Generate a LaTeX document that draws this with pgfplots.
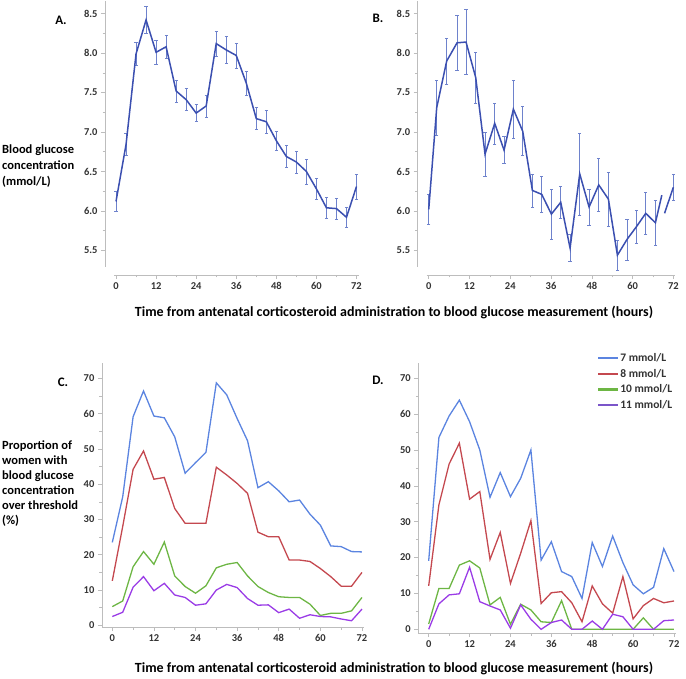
\documentclass[border=0pt]{standalone}
\usepackage{pgfplots}
\pgfplotsset{compat=1.18}
\usepackage{fontspec}
\setmainfont{Carlito}
\definecolor{axgray}{HTML}{BDBDBD}
\definecolor{tickgray}{HTML}{333333}
\definecolor{bblue}{HTML}{3B4FB0}
\definecolor{ebblue}{HTML}{6E82CC}
\definecolor{c7}{HTML}{5B84E0}
\definecolor{c8}{HTML}{C4484F}
\definecolor{c10}{HTML}{6DB644}
\definecolor{c11}{HTML}{9A3CE6}
\definecolor{c11leg}{HTML}{7B55C9}

\pgfplotsset{
  base/.style={
    scale only axis,
    anchor=south west,
    axis x line*=bottom, axis y line*=left,
    separate axis lines,
    axis line style={axgray, line width=0.8pt, -},
    tick align=outside,
    major tick length=4pt, minor tick length=2.5pt,
    every tick/.style={axgray, line width=0.6pt},
    tick label style={font=\fontsize{10.5}{10.5}\selectfont\bfseries, text=tickgray},
    /pgf/number format/assume math mode=true,
    xtick={0,12,24,36,48,60,72},
    minor x tick num=1,
    minor y tick num=1,
    clip=false,
  },
  offsetax/.style={
    every outer x axis line/.append style={yshift=-8pt},
    every outer y axis line/.append style={xshift=-9pt},
    xtick style={yshift=-8pt}, ytick style={xshift=-9pt},
    xticklabel style={yshift=-8pt}, yticklabel style={xshift=-9pt},
  },
  ebars/.style={draw=none, mark=none, forget plot,
    error bars/.cd, y dir=both, y explicit,
    error bar style={ebblue, line width=0.6pt},
    error mark options={ebblue, mark size=1.6pt, rotate=90, line width=0.6pt}},
}

\begin{document}
\begin{tikzpicture}
\useasboundingbox (0,0) rectangle (686pt,678pt);

% ---------- Panel A ----------
\begin{axis}[base, offsetax, at={(114pt,411pt)}, width=244.5pt, height=266pt,
  xmin=-0.6, xmax=72.6, ymin=5.29, ymax=8.66,
  ytick={5.5,6.0,6.5,7.0,7.5,8.0,8.5},
  yticklabel={\pgfmathprintnumber[fixed,fixed zerofill,precision=1]{\tick}},
]
\addplot[ebars] table[x=x,y=y,y error=e] {
x y e
0 6.12 0.13
3 6.84 0.14
6 7.99 0.15
9 8.42 0.17
12 8.01 0.15
15 8.08 0.15
18 7.52 0.14
21 7.41 0.14
24 7.24 0.11
27 7.33 0.14
30 8.12 0.16
33 8.04 0.17
36 7.97 0.16
39 7.62 0.15
42 7.17 0.14
45 7.13 0.14
48 6.89 0.12
51 6.69 0.14
54 6.62 0.14
57 6.50 0.16
60 6.28 0.13
63 6.04 0.13
66 6.03 0.13
69 5.92 0.13
72 6.31 0.16
};
\addplot[bblue, line width=1.5pt, mark=none] table[x=x,y=y] {
x y
0 6.12
3 6.84
6 7.99
9 8.42
12 8.01
15 8.08
18 7.52
21 7.41
24 7.24
27 7.33
30 8.12
33 8.04
36 7.97
39 7.62
42 7.17
45 7.13
48 6.89
51 6.69
54 6.62
57 6.50
60 6.28
63 6.04
66 6.03
69 5.92
72 6.31
};
\end{axis}

% ---------- Panel B ----------
\begin{axis}[base, offsetax, at={(426.7pt,411pt)}, width=248.7pt, height=266pt,
  xmin=-0.6, xmax=72.6, ymin=5.29, ymax=8.66,
  ytick={5.5,6.0,6.5,7.0,7.5,8.0,8.5},
  yticklabel={\pgfmathprintnumber[fixed,fixed zerofill,precision=1]{\tick}},
]
\addplot[ebars] table[x=x,y=y,y error=e] {
x y e
0 6.02 0.19
2.35 7.31 0.35
5.29 7.90 0.29
8.33 8.13 0.35
10.98 8.14 0.41
13.83 7.69 0.32
16.57 6.72 0.28
19.42 7.11 0.26
22.17 6.77 0.17
24.91 7.29 0.37
27.66 7.01 0.31
30.51 6.26 0.21
33.26 6.21 0.23
36.10 5.96 0.32
38.85 6.11 0.20
41.60 5.53 0.17
44.44 6.47 0.52
47.19 6.05 0.23
50.04 6.33 0.34
52.88 6.15 0.34
55.53 5.44 0.19
58.37 5.64 0.26
61.12 5.80 0.21
63.87 5.97 0.27
66.72 5.85 0.29
72 6.30 0.16
};
\addplot[bblue, line width=1.5pt, mark=none] table[x=x,y=y] {
x y
0 6.02
2.35 7.31
5.29 7.90
8.33 8.13
10.98 8.14
13.83 7.69
16.57 6.72
19.42 7.11
22.17 6.77
24.91 7.29
27.66 7.01
30.51 6.26
33.26 6.21
36.10 5.96
38.85 6.11
41.60 5.53
44.44 6.47
47.19 6.05
50.04 6.33
52.88 6.15
55.53 5.44
58.37 5.64
61.12 5.80
63.87 5.97
66.72 5.85
68.60 6.20
};
\addplot[bblue, line width=1.5pt, mark=none] table[x=x,y=y] {
x y
69.40 5.97
72 6.30
};
\end{axis}

% ---------- Panel C ----------
\begin{axis}[base, at={(101.9pt,50.9pt)}, width=261.8pt, height=264pt,
  xmin=-3, xmax=72.5, ymin=-0.5, ymax=74.3,
  ytick={0,10,20,30,40,50,60,70},
]
\addplot[c7, line width=1.3pt, mark=none] table[x=x,y=y] {
x y
0 23.5
3 36.4
6 59.1
9 66.4
12 59.3
15 58.8
18 53.4
21 43.1
24 46.1
27 49.0
30 68.7
33 65.3
36 58.6
39 52.3
42 39.0
45 40.7
48 38.1
51 35.0
54 35.5
57 31.5
60 28.4
63 22.5
66 22.3
69 20.9
72 20.8
};
\addplot[c8, line width=1.3pt, mark=none] table[x=x,y=y] {
x y
0 12.6
3 28.0
6 44.2
9 49.4
12 41.4
15 41.9
18 33.1
21 28.9
24 28.9
27 28.9
30 44.8
33 42.6
36 40.2
39 37.4
42 26.4
45 25.1
48 25.1
51 18.5
54 18.5
57 18.1
60 16.1
63 13.8
66 11.1
69 11.1
72 15.0
};
\addplot[c10, line width=1.3pt, mark=none] table[x=x,y=y] {
x y
0 5.3
3 6.9
6 16.6
9 20.9
12 17.3
15 23.6
18 14.0
21 11.0
24 9.1
27 11.2
30 16.3
33 17.3
36 17.8
39 14.0
42 11.0
45 9.3
48 8.1
51 7.9
54 7.9
57 6.0
60 2.8
63 3.4
66 3.4
69 4.1
72 7.9
};
\addplot[c11, line width=1.3pt, mark=none] table[x=x,y=y] {
x y
0 2.5
3 3.7
6 10.8
9 13.8
12 9.8
15 11.9
18 8.6
21 7.9
24 5.7
27 6.1
30 10.0
33 11.6
36 10.7
39 7.6
42 5.7
45 5.8
48 3.6
51 4.6
54 2.0
57 3.0
60 2.5
63 2.4
66 1.8
69 1.3
72 4.6
};
\end{axis}

% ---------- Panel D ----------
\begin{axis}[base, at={(418.3pt,45pt)}, width=257.4pt, height=269.8pt,
  xmin=-3.05, xmax=72.5, ymin=-1.03, ymax=74.2,
  ytick={0,10,20,30,40,50,60,70},
  legend style={at={(0.694,1.04)}, anchor=north west, draw=none, fill=none,
    font=\fontsize{11.5}{12}\selectfont\bfseries, text=tickgray,
    row sep=4pt, inner sep=0pt, nodes={inner sep=1pt}},
  legend cell align=left,
  legend image code/.code={\draw[#1, line width=2.2pt] (0pt,0pt) -- (20pt,0pt);},
]
\addlegendimage{c7}
\addlegendentry{7 mmol/L}
\addlegendimage{c8}
\addlegendentry{8 mmol/L}
\addlegendimage{c10}
\addlegendentry{10 mmol/L}
\addlegendimage{c11leg}
\addlegendentry{11 mmol/L}
\addplot[c7, line width=1.3pt, mark=none, forget plot] table[x=x,y=y] {
x y
0 19.1
3 53.5
6 59.5
9 63.9
12 57.9
15 50.0
18 36.8
21 43.7
24 37.0
27 42.1
30 50.0
33 19.3
36 24.4
39 16.1
42 14.7
45 8.6
48 24.2
51 17.5
54 26.0
57 18.6
60 12.4
63 9.9
66 11.7
69 22.5
72 16.1
};
\addplot[c8, line width=1.3pt, mark=none, forget plot] table[x=x,y=y] {
x y
0 12.1
3 34.7
6 46.1
9 51.9
12 36.3
15 38.4
18 19.5
21 27.0
24 12.8
27 21.2
30 30.3
33 7.2
36 10.2
39 10.5
42 7.4
45 2.1
48 12.1
51 7.1
54 4.5
57 14.7
60 2.9
63 6.6
66 8.6
69 7.4
72 7.9
};
\addplot[c10, line width=1.3pt, mark=none, forget plot] table[x=x,y=y] {
x y
0 1.5
3 11.4
6 11.4
9 17.9
12 19.1
15 17.1
18 6.8
21 8.9
24 1.4
27 7.0
30 5.4
33 2.1
36 1.9
39 8.0
42 0
45 0
48 0
51 0
54 0
57 0
60 0
63 3.2
66 0
69 0
72 0
};
\addplot[c11, line width=1.3pt, mark=none, forget plot] table[x=x,y=y] {
x y
0 0
3 7.1
6 9.6
9 9.9
12 17.3
15 7.7
18 6.5
21 5.4
24 0.3
27 6.8
30 2.8
33 0
36 1.9
39 2.6
42 0
45 0
48 2.3
51 0
54 4.2
57 3.5
60 0
63 0
66 0
69 2.4
72 2.6
};
\end{axis}

% ---------- Text ----------
\begin{scope}[every node/.style={font=\fontsize{13}{13}\selectfont\bfseries, inner sep=0pt}]
\node at (61pt,658pt) {A.};
\node at (378pt,660pt) {B.};
\node at (63pt,296pt) {C.};
\node at (378pt,298pt) {D.};
\node[anchor=west, align=left, font=\fontsize{12.5}{16}\selectfont\bfseries] at (2pt,511.5pt)
  {Blood glucose\\concentration\\(mmol/L)};
\node[anchor=west, align=left, font=\fontsize{12.5}{15}\selectfont\bfseries] at (2pt,194.5pt)
  {Proportion of\\women with\\blood glucose\\concentration\\over threshold\\(\%)};
\node[font=\fontsize{14}{14}\selectfont\bfseries] at (394pt,366pt) {Time from antenatal corticosteroid administration to blood glucose measurement (hours)};
\node[font=\fontsize{14}{14}\selectfont\bfseries] at (394pt,10pt) {Time from antenatal corticosteroid administration to blood glucose measurement (hours)};
\end{scope}
\end{tikzpicture}
\end{document}
